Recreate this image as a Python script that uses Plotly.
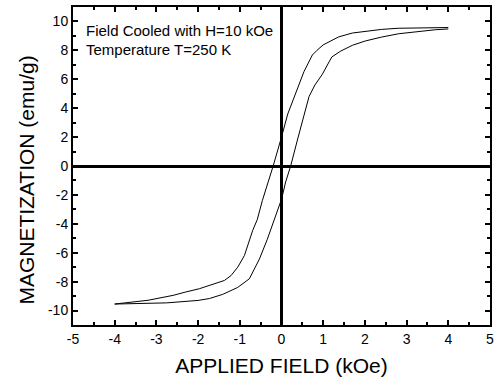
import plotly.graph_objects as go

# Descending branch (from +4 kOe down to -4 kOe)
desc_field = [4.0, 3.6, 3.3, 2.8, 2.4, 2.0, 1.7, 1.37, 1.2, 1.0, 0.85, 0.74, 0.54, 0.3, 0.15, 0.0,
              -0.2, -0.46, -0.58, -0.69, -0.89, -1.05, -1.21, -1.37, -1.7, -1.97, -2.3, -2.6, -3.2, -3.56, -4.0]
desc_mag = [9.58, 9.57, 9.56, 9.53, 9.45, 9.33, 9.2, 8.93, 8.7, 8.38, 8.0, 7.68, 6.54, 4.8, 3.6, 2.0,
            0.0, -2.4, -3.7, -4.45, -6.2, -7.0, -7.58, -7.92, -8.25, -8.49, -8.72, -8.95, -9.29, -9.4, -9.55]

# Ascending branch (from -4 kOe up to +4 kOe)
asc_field = [-4.0, -3.5, -2.76, -2.0, -1.73, -1.41, -1.05, -0.77, -0.65, -0.53, -0.34, -0.2, -0.06, 0.0,
             0.1, 0.22, 0.4, 0.66, 0.8, 0.98, 1.14, 1.21, 1.42, 1.7, 2.01, 2.4, 2.81, 3.3, 3.7, 4.0]
asc_mag = [-9.55, -9.52, -9.47, -9.3, -9.17, -8.88, -8.4, -7.8, -7.12, -6.44, -5.07, -3.9, -2.8, -2.3,
           -1.1, 0.0, 2.0, 4.8, 5.6, 6.35, 7.2, 7.55, 7.95, 8.35, 8.65, 8.92, 9.15, 9.33, 9.43, 9.48]

x_ticks = [-5, -4, -3, -2, -1, 0, 1, 2, 3, 4, 5]
x_labels = ["-5", "-4", "-3", "-2", "-1", "0", "1", "2", "3", "4", "5"]
y_ticks = [-10, -8, -6, -4, -2, 0, 2, 4, 6, 8, 10]
y_labels = ["-10", "-8", "-6", "-4", "-2", "0", "2", "4", "6", "8", "10"]

notes = ["Field Cooled with H=10 kOe", "Temperature T=250 K"]
x_title = "APPLIED FIELD (kOe)"
y_title = "MAGNETIZATION (emu/g)"

FONT = "Liberation Sans, Arial, sans-serif"

fig = go.Figure()
fig.add_trace(go.Scatter(x=desc_field, y=desc_mag, mode="lines",
                         line=dict(color="black", width=1), showlegend=False))
fig.add_trace(go.Scatter(x=asc_field, y=asc_mag, mode="lines",
                         line=dict(color="black", width=1), showlegend=False))

axis_common = dict(
    showgrid=False, showline=True, linecolor="black", linewidth=2, mirror="ticks",
    ticks="inside", ticklen=5, tickwidth=1.5, tickcolor="black",
    zeroline=True, zerolinecolor="black", zerolinewidth=2.5,
    tickfont=dict(family=FONT, size=14, color="black"),
)

fig.update_layout(
    width=499, height=388,
    margin=dict(l=73, r=7.5, t=5, b=62.5),
    plot_bgcolor="white", paper_bgcolor="white",
    font=dict(family=FONT, color="black"),
    xaxis=dict(range=[-5, 5], tickvals=x_ticks, ticktext=x_labels,
               minor=dict(dtick=0.5, ticks="inside", ticklen=3, tickcolor="black", tickwidth=1.5),
               title=dict(text=x_title, font=dict(family=FONT, size=21, color="black"),
                          standoff=13),
               **axis_common),
    yaxis=dict(range=[-11, 11], tickvals=y_ticks, ticktext=y_labels,
               minor=dict(dtick=1, ticks="inside", ticklen=3, tickcolor="black", tickwidth=1.5),
               **axis_common),
)

fig.add_annotation(x=-0.112, y=0.455, xref="paper", yref="paper", text=y_title,
                   textangle=-90, showarrow=False, xanchor="center", yanchor="middle",
                   font=dict(family=FONT, size=21, color="black"))

for txt, yv in zip(notes, [9.34, 8.04]):
    fig.add_annotation(x=-4.74, y=yv, xref="x", yref="y", text=txt, showarrow=False,
                       xanchor="left", yanchor="middle",
                       font=dict(family=FONT, size=15, color="black"))

fig.write_html("out.html")
